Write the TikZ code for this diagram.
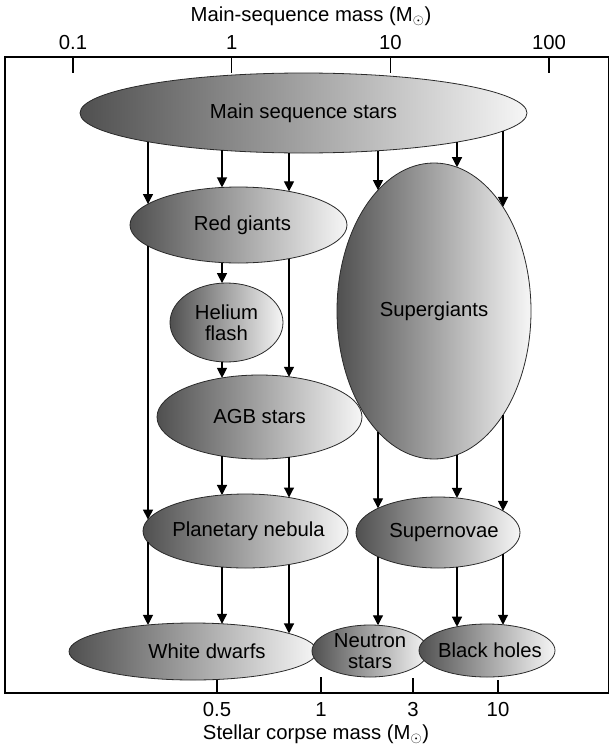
\documentclass[tikz,border=0pt]{standalone}
\usepackage{fontspec}
\setmainfont{Liberation Sans}
\usetikzlibrary{shapes.geometric,arrows.meta,calc}
\definecolor{dk}{HTML}{505050}
\definecolor{lt}{HTML}{F6F6F6}
\definecolor{edge}{HTML}{2A2A2A}
\tikzset{
  blob/.style={ellipse, draw=edge, line width=0.8pt, left color=dk, right color=lt,
               inner sep=0pt, outer sep=0pt},
  txt/.style={font=\fontsize{20.3}{21.5}\selectfont, text=black, align=center, inner sep=0pt},
  arr/.style={line width=1.2pt, -{Triangle[width=10pt,length=10pt]}},
  axisline/.style={line width=1.3pt},
}
% vertical arrow from bottom border of node #1 to top border of node #2 at x=#3
\newcommand\flow[3]{%
  \draw[arr] let \p1=(#1.center),\p2=(#1.east),\p3=(#1.south),
                 \p4=(#2.center),\p5=(#2.east),\p6=(#2.north) in
    ({#3pt},{\y1+(\y3-\y1)*sqrt(1-((#3pt-\x1)/(\x2-\x1))^2)}) --
    ({#3pt},{\y4+(\y6-\y4)*sqrt(1-((#3pt-\x4)/(\x5-\x4))^2)});}
\begin{document}
\begin{tikzpicture}[x=1pt,y=-1pt]
\useasboundingbox (0,0) rectangle (608,747);
\fill[white] (0,0) rectangle (608,747);

% frame and axes
\draw[axisline] (5,57) rectangle (609,693);
\draw[axisline] (73,57) -- (73,73);
\draw[axisline] (231.7,57) -- (231.7,73);
\draw[axisline] (390.3,57) -- (390.3,73);
\draw[axisline] (549,57) -- (549,73);
\draw[axisline] (217,680) -- (217,693);
\draw[axisline] (321,677) -- (321,693);
\draw[axisline] (413,678) -- (413,693);
\draw[axisline] (498,680) -- (498,693);

\node[txt] (toptitle) at (311,16) {Main-sequence mass (M$_\odot$)};
\node[txt] (tA) at (73,43) {0.1};
\node[txt] (tB) at (231.7,43) {1};
\node[txt] (tC) at (390.3,43) {10};
\node[txt] (tD) at (549,43) {100};
\node[txt] (bA) at (217,710) {0.5};
\node[txt] (bB) at (321,710) {1};
\node[txt] (bC) at (413,710) {3};
\node[txt] (bD) at (498,710) {10};
\node[txt] (bottomtitle) at (316,734) {Stellar corpse mass (M$_\odot$)};

% stages
\node[blob, minimum width=447pt, minimum height=80pt,
      label={[txt]center:Main sequence stars}] (ms) at (303.5,113) {};
\node[blob, minimum width=217pt, minimum height=76pt,
      label={[txt,xshift=4pt]center:Red giants}] (rg) at (238.5,225) {};
\node[blob, minimum width=113pt, minimum height=79pt,
      label={[txt]center:Helium\\flash}] (hf) at (226.5,322.5) {};
\node[blob, minimum width=205pt, minimum height=84pt,
      label={[txt]center:AGB stars}] (agb) at (259.5,417) {};
\node[blob, minimum width=194pt, minimum height=296pt,
      label={[txt]center:Supergiants}] (sg) at (434,311) {};
\node[blob, minimum width=205pt, minimum height=74pt,
      label={[txt,xshift=3pt]center:Planetary nebula}] (pn) at (245.5,531) {};
\node[blob, minimum width=164pt, minimum height=71pt,
      label={[txt,xshift=6pt]center:Supernovae}] (sn) at (438,532.5) {};
\node[blob, minimum width=248pt, minimum height=57pt,
      label={[txt,xshift=14pt]center:White dwarfs}] (wd) at (193,651.5) {};
\node[blob, minimum width=116pt, minimum height=52pt,
      label={[txt]center:Neutron\\stars}] (ns) at (370,651) {};
\node[blob, minimum width=136pt, minimum height=53pt,
      label={[txt,xshift=3pt]center:Black holes}] (bh) at (487,650.5) {};

% evolutionary paths
\flow{ms}{rg}{148}
\flow{ms}{rg}{222}
\flow{ms}{rg}{289}
\flow{ms}{sg}{378}
\flow{ms}{sg}{457}
\flow{ms}{sg}{503}
\flow{rg}{pn}{148}
\flow{rg}{hf}{222}
\flow{rg}{agb}{289}
\flow{hf}{agb}{222}
\flow{agb}{pn}{222}
\flow{agb}{pn}{289}
\flow{pn}{wd}{148}
\flow{pn}{wd}{222}
\flow{pn}{wd}{289}
\flow{sg}{sn}{378}
\flow{sg}{sn}{457}
\flow{sg}{sn}{503}
\flow{sn}{ns}{378}
\flow{sn}{bh}{457}
\flow{sn}{bh}{503}
\end{tikzpicture}
\end{document}
